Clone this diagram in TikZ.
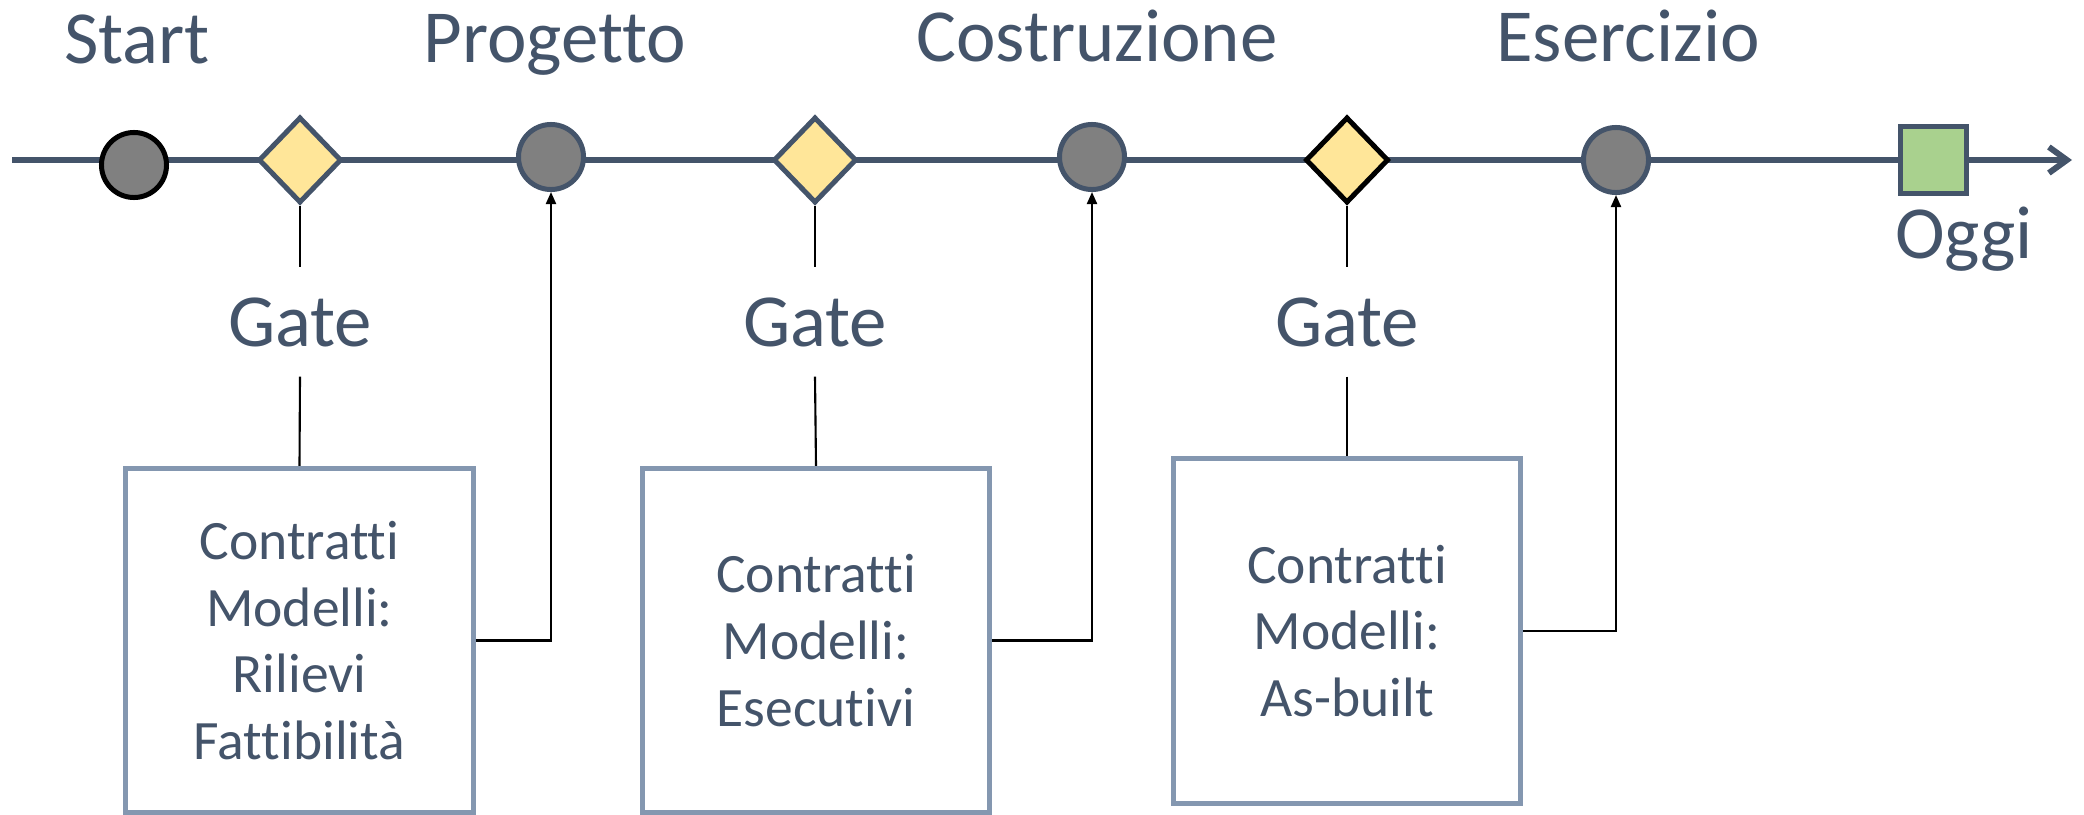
\documentclass[tikz,border=0pt]{standalone}
\usepackage{fontspec}
\setmainfont{Carlito}[Ligatures=NoCommon]
\usetikzlibrary{shapes.geometric,arrows.meta}
\definecolor{slate}{HTML}{44546A}
\definecolor{milefill}{HTML}{808080}
\definecolor{gatefill}{HTML}{FFE699}
\definecolor{todayfill}{HTML}{A9D18E}
\definecolor{boxline}{HTML}{8497B0}
\begin{document}
\begin{tikzpicture}[x=0.01cm,y=-0.01cm,
  milestone/.style={circle, draw=slate, fill=milefill, line width=0.05cm, minimum size=0.65cm, inner sep=0pt},
  gatemark/.style={diamond, draw=slate, fill=gatefill, line width=0.05cm, minimum width=0.83cm, minimum height=0.86cm, inner sep=0pt},
  todaymark/.style={rectangle, draw=slate, fill=todayfill, line width=0.05cm, minimum width=0.66cm, minimum height=0.67cm, inner sep=0pt},
  phase/.style={font=\fontsize{21.3}{25}\selectfont, text=slate, anchor=base, inner sep=0pt},
  gatelabel/.style={font=\fontsize{21.3}{25}\selectfont, text=slate, minimum height=1.08cm, inner sep=0pt},
  contract/.style={rectangle, draw=boxline, line width=0.05cm, minimum width=3.47cm, minimum height=3.44cm, align=center, text=slate, font=\fontsize{15.8}{19}\selectfont, inner sep=0pt},
  timeline/.style={draw=slate, line width=0.06cm, -{Straight Barb[length=0.18cm,width=0.26cm]}},
  link/.style={draw=black, line width=0.6pt},
  feed/.style={link, -{Triangle[length=0.12cm,width=0.1cm]}}
]
\useasboundingbox (0,0) rectangle (2084,815);

% timeline
\coordinate (tl0) at (12,160);
\coordinate (tl1) at (2072,160);
\draw[timeline] (tl0) -- (tl1);

% markers
\node[milestone, draw=black] (start) at (134,165) {};
\node[gatemark] (d1) at (300,160) {};
\node[milestone] (c1) at (551,157) {};
\node[gatemark] (d2) at (815,160) {};
\node[milestone] (c2) at (1092,157) {};
\node[gatemark, draw=black] (d3) at (1347,160) {};
\node[milestone] (c3) at (1616,160) {};
\node[todaymark] (today) at (1933.5,160) {};

% phase labels
\node[phase] (lstart) at (137,63) {Start};
\node[phase] (lprog) at (555,62) {Progetto};
\node[phase] (lcost) at (1097,61) {Costruzione};
\node[phase] (leser) at (1628,61) {Esercizio};
\node[phase] (loggi) at (1964,258) {Oggi};

% gate labels
\node[gatelabel] (g1) at (300,322) {Gate};
\node[gatelabel] (g2) at (815,322) {Gate};
\node[gatelabel] (g3) at (1347,322) {Gate};

% contract boxes
\node[contract] (b1) at (299.5,640.5) {Contratti\\Modelli:\\Rilievi\\Fattibilità};
\node[contract] (b2) at (816,640.5) {Contratti\\Modelli:\\Esecutivi};
\node[contract] (b3) at (1347,631) {Contratti\\Modelli:\\As-built};

% connectors
\draw[link] (d1.south) -- (g1.north);
\draw[link] (g1.south) -- (b1.north);
\draw[link] (d2.south) -- (g2.north);
\draw[link] (g2.south) -- (b2.north);
\draw[link] (d3.south) -- (g3.north);
\draw[link] (g3.south) -- (b3.north);

\draw[feed] (b1.east) -| (c1.south);
\draw[feed] (b2.east) -| (c2.south);
\draw[feed] (b3.east) -| (c3.south);
\end{tikzpicture}
\end{document}
